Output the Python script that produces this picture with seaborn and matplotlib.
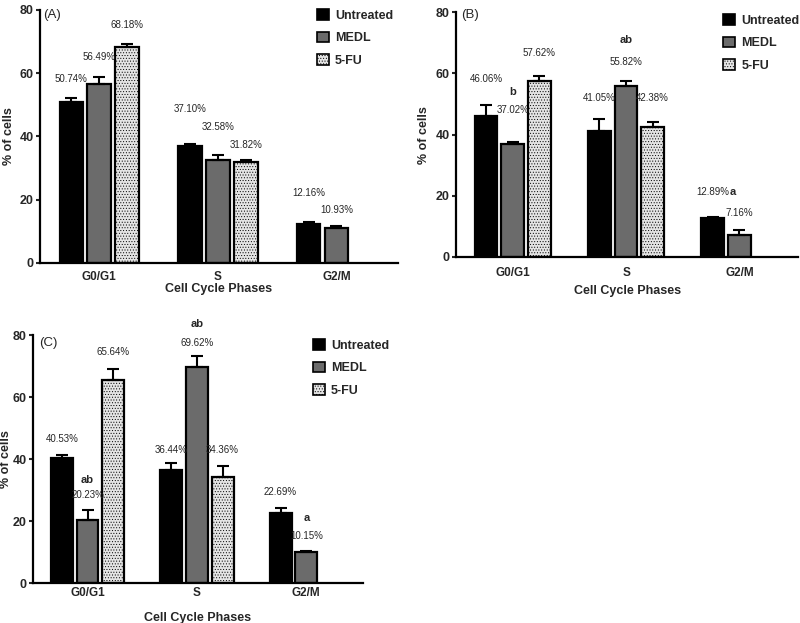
import matplotlib
matplotlib.use('Agg')
import matplotlib.pyplot as plt
import seaborn as sns
import pandas as pd
from matplotlib.patches import Patch

# --- data ---
phases = ['G0/G1', 'S', 'G2/M']
groups = ['Untreated', 'MEDL', '5-FU']

# (A)
a_untreated = [50.74, 37.10, 12.16]
a_medl = [56.49, 32.58, 10.93]
a_5fu = [68.18, 31.82, None]
a_untreated_err = [1.3, 0.6, 0.8]
a_medl_err = [2.4, 1.5, 0.8]
a_5fu_err = [1.0, 0.8, None]

# (B)
b_untreated = [46.06, 41.05, 12.89]
b_medl = [37.02, 55.82, 7.16]
b_5fu = [57.62, 42.38, None]
b_untreated_err = [3.7, 4.0, 0.3]
b_medl_err = [0.6, 1.8, 1.6]
b_5fu_err = [1.6, 1.6, None]
b_letters = ['b', 'ab', 'a']

# (C)
c_untreated = [40.53, 36.44, 22.69]
c_medl = [20.23, 69.62, 10.15]
c_5fu = [65.64, 34.36, None]
c_untreated_err = [0.7, 2.3, 1.5]
c_medl_err = [3.4, 3.8, 0.2]
c_5fu_err = [3.4, 3.4, None]
c_letters = ['ab', 'ab', 'a']

# --- annotation heights (data units) ---
a_label_y = {'Untreated': [58.2, 48.7, 22.1], 'MEDL': [65.1, 43.0, 16.8], '5-FU': [75.3, 37.3, None]}
b_label_y = {'Untreated': [58.1, 51.9, 21.2], 'MEDL': [48.0, 63.7, 14.4], '5-FU': [66.6, 51.9, None]}
c_label_y = {'Untreated': [46.4, 42.9, 29.4], 'MEDL': [28.4, 77.4, 15.2], '5-FU': [74.5, 42.9, None]}
b_letter_y = [53.9, 70.9, 21.2]
c_letter_y = [33.2, 83.5, 21.0]

colors = {'Untreated': '#000000', 'MEDL': '#6b6b6b', '5-FU': '#e4e4e4'}

sns.set_style('white')
plt.rcParams['font.family'] = ['Liberation Sans', 'DejaVu Sans']
plt.rcParams['hatch.linewidth'] = 0.4
plt.rcParams['hatch.color'] = '#555555'


def draw_panel(ax, vals, errs, label_y, tag, tag_xy, ylabel_x, letters=None, letter_y=None,
               letter_dx=(0, 0, 0), tickpad=6, labelpad=0):
    rows = []
    for g, v in zip(groups, vals):
        for p, y in zip(phases, v):
            if y is not None:
                rows.append({'phase': p, 'group': g, 'pct': y})
    df = pd.DataFrame(rows)
    sns.barplot(data=df, x='phase', y='pct', hue='group', order=phases, hue_order=groups,
                palette=colors, saturation=1, errorbar=None, width=0.705, gap=0.15,
                edgecolor='black', linewidth=1.6, legend=False, ax=ax)
    err_map = dict(zip(groups, errs))
    for container, g in zip(ax.containers, groups):
        for bar in container:
            xc = bar.get_x() + bar.get_width() / 2
            i = int(round(xc))
            h = bar.get_height()
            if g == '5-FU':
                bar.set_hatch('......')
            ax.errorbar(xc, h, yerr=[[0], [err_map[g][i]]], color='black', capsize=4,
                        elinewidth=1.5, capthick=1.5, zorder=3)
            ax.text(xc, label_y[g][i], f'{h:.2f}%', ha='center', va='center',
                    fontsize=7, clip_on=False)
            if letters is not None and g == 'MEDL':
                ax.text(xc + letter_dx[i], letter_y[i], letters[i], ha='center', va='center',
                        fontsize=8, fontweight='bold', clip_on=False)

    ax.set_ylim(0, 80)
    ax.set_xlim(-0.5, 2.52)
    ax.set_yticks([0, 20, 40, 60, 80])
    ax.set_xlabel('Cell Cycle Phases', fontsize=9, fontweight='bold', labelpad=labelpad)
    ax.set_ylabel('% of cells', fontsize=9, fontweight='bold')
    ax.yaxis.set_label_coords(ylabel_x, 0.5)
    sns.despine(ax=ax)
    for s in ['left', 'bottom']:
        ax.spines[s].set_linewidth(1.6)
        ax.spines[s].set_color('black')
    ax.tick_params(axis='y', length=3, width=1.5, pad=1.5, labelsize=9, left=True)
    ax.tick_params(axis='x', length=0, pad=tickpad, labelsize=8.5)
    for t in ax.get_xticklabels() + ax.get_yticklabels():
        t.set_fontweight('bold')
    ax.text(tag_xy[0], tag_xy[1], tag, transform=ax.transAxes, ha='left', va='center', fontsize=9.5)


def add_legend(ax, fig, x, y):
    handles = [Patch(facecolor=colors[g], edgecolor='black', linewidth=1.2,
                     hatch='......' if g == '5-FU' else None) for g in groups]
    ax.legend(handles, groups, loc='upper left', bbox_to_anchor=(x, y), bbox_transform=fig.transFigure,
              frameon=False, borderpad=0, borderaxespad=0, handlelength=0.95, handleheight=0.95,
              handletextpad=0.5, labelspacing=0.8, prop={'weight': 'bold', 'size': 9})


fig = plt.figure(figsize=(8, 6.23), dpi=100)
ax_a = fig.add_axes([0.05, 0.578, 0.4475, 0.406])
ax_b = fig.add_axes([0.57, 0.5875, 0.428, 0.393])
ax_c = fig.add_axes([0.041, 0.064, 0.413, 0.398])

draw_panel(ax_a, [a_untreated, a_medl, a_5fu], [a_untreated_err, a_medl_err, a_5fu_err],
           a_label_y, '(A)', (0.008, 0.98), -0.07, tickpad=6, labelpad=0)
draw_panel(ax_b, [b_untreated, b_medl, b_5fu], [b_untreated_err, b_medl_err, b_5fu_err],
           b_label_y, '(B)', (0.015, 0.988), -0.076, letters=b_letters, letter_y=b_letter_y,
           letter_dx=(0, 0, -0.06), tickpad=7.5, labelpad=4)
draw_panel(ax_c, [c_untreated, c_medl, c_5fu], [c_untreated_err, c_medl_err, c_5fu_err],
           c_label_y, '(C)', (0.018, 0.968), -0.062, letters=c_letters, letter_y=c_letter_y,
           tickpad=3, labelpad=9)

add_legend(ax_a, fig, 0.396, 0.9856)
add_legend(ax_b, fig, 0.904, 0.9775)
add_legend(ax_c, fig, 0.391, 0.456)

fig.savefig('out.png', dpi=100)
